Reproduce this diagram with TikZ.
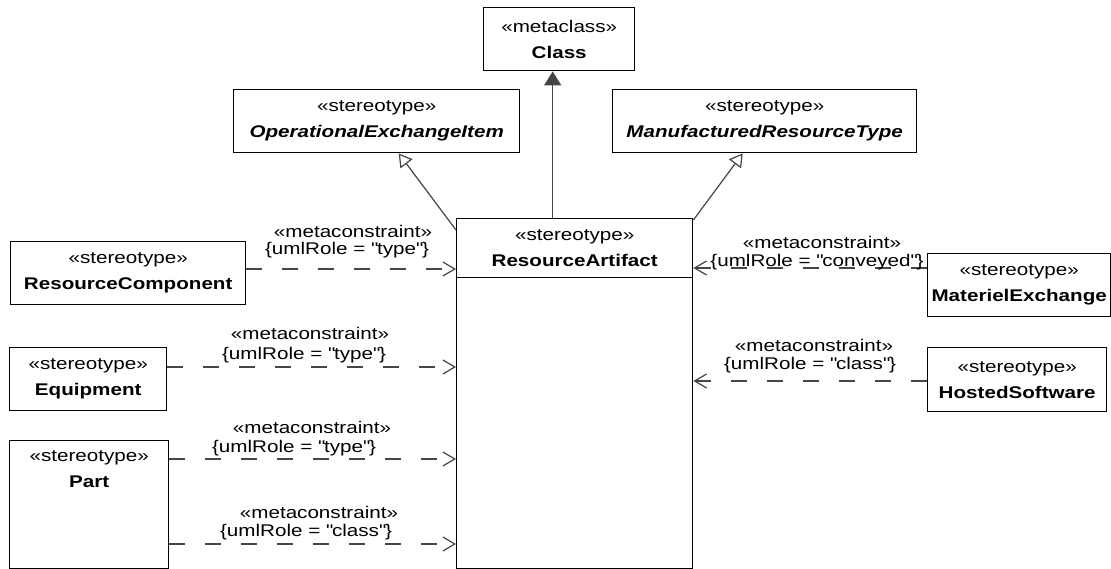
\documentclass[tikz,border=0pt]{standalone}
\usepackage{fontspec}
\setmainfont{Liberation Sans}[FakeStretch=1.22]
\usetikzlibrary{arrows.meta}
\definecolor{linegray}{HTML}{454545}
\newcommand{\qq}{\XeTeXglyph\XeTeXcharglyph"22\relax}
\begin{document}
\begin{tikzpicture}[x=1pt,y=-1pt,
  box/.style={draw=black,line width=1.4pt,fill=white,inner sep=0pt,anchor=north west,
    font=\fontsize{16.9}{26}\selectfont,align=center},
  txt/.style={font=\fontsize{16.9}{26}\selectfont,align=center,inner sep=0pt},
  lbl/.style={font=\fontsize{16.9}{20}\selectfont,inner sep=0pt},
  dep/.style={draw=linegray,line width=1.2pt,dash pattern=on 16pt off 20pt,
    -{Straight Barb[length=12pt,width=14pt,line width=1.2pt]}},
  gen/.style={draw=linegray,line width=1.2pt,
    -{Triangle[open,length=13pt,width=15pt,fill=white,line width=1.2pt]}},
  ext/.style={draw=linegray,line width=1.4pt,
    -{Triangle[length=14pt,width=17pt,fill=linegray]}},
]
\useasboundingbox[fill=white] (0,0) rectangle (1111,569);

% boxes
\node[box,minimum width=151pt,minimum height=63pt] (cls) at (483,7)
  {«metaclass»\\\textbf{Class}};
\node[box,minimum width=286pt,minimum height=63pt] (oei) at (233,89)
  {«stereotype»\\\textbf{\textit{OperationalExchangeItem}}};
\node[box,minimum width=304pt,minimum height=63pt] (mrt) at (612,89)
  {«stereotype»\\\textbf{\textit{ManufacturedResourceType}}};
\node[box,minimum width=236pt,minimum height=291pt] (rabody) at (456,277) {};
\node[box,minimum width=236pt,minimum height=59pt] (ra) at (456,218)
  {«stereotype»\\\textbf{ResourceArtifact}};
\node[box,minimum width=235pt,minimum height=63pt] (rc) at (10,241)
  {«stereotype»\\\textbf{ResourceComponent}};
\node[box,minimum width=157pt,minimum height=63pt] (eq) at (9,347)
  {«stereotype»\\\textbf{Equipment}};
\node[box,minimum width=159pt,minimum height=128pt] (part) at (9,440) {};
\node[txt,anchor=north] (parttxt) at ([yshift=-10pt]part.north)
  {«stereotype»\\\textbf{Part}};
\node[box,minimum width=183pt,minimum height=63pt] (me) at (927,253)
  {«stereotype»\\\textbf{MaterielExchange}};
\node[box,minimum width=179pt,minimum height=64pt] (hs) at (927,347)
  {«stereotype»\\\textbf{HostedSoftware}};

% generalizations
\draw[gen] ([yshift=-12pt]ra.north west) -- ([xshift=22pt]oei.south);
\draw[gen] ([yshift=-2pt]ra.north east) -- ([xshift=-22pt]mrt.south);
\draw[ext] ([xshift=-22pt]ra.north) -- ([xshift=-22pt]ra.north |- cls.south);

% dependencies
\draw[dep] (rc.east |- 0,269) -- (ra.west |- 0,269);
\draw[dep] (eq.east |- 0,367) -- (rabody.west |- 0,367);
\draw[dep] (part.east |- 0,459) -- (rabody.west |- 0,459);
\draw[dep] (part.east |- 0,544) -- (rabody.west |- 0,544);
\draw[dep] (me.west |- 0,268) -- (ra.east |- 0,268);
\draw[dep] (hs.west |- 0,381) -- (rabody.east |- 0,381);

% labels
\node[lbl] (l1a) at (353,231) {«metaconstraint»};
\node[lbl] (l1b) at (347,250) {\{umlRole = \qq type\qq\}};
\node[lbl] (l2a) at (310,333) {«metaconstraint»};
\node[lbl] (l2b) at (304,355) {\{umlRole = \qq type\qq\}};
\node[lbl] (l3a) at (312,427) {«metaconstraint»};
\node[lbl] (l3b) at (294,448) {\{umlRole = \qq type\qq\}};
\node[lbl] (l4a) at (319,512) {«metaconstraint»};
\node[lbl] (l4b) at (306,532) {\{umlRole = \qq class\qq\}};
\node[lbl] (l5a) at (822,242) {«metaconstraint»};
\node[lbl] (l5b) at (817,262) {\{umlRole = \qq conveyed\qq\}};
\node[lbl] (l6a) at (814,345) {«metaconstraint»};
\node[lbl] (l6b) at (810,365) {\{umlRole = \qq class\qq\}};
\end{tikzpicture}
\end{document}
